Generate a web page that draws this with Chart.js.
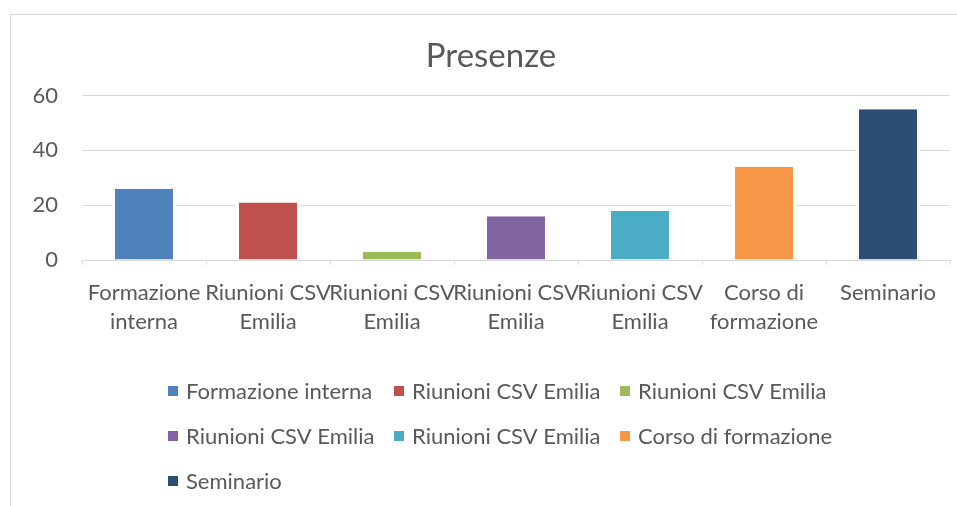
<!DOCTYPE html>
<html>
<head>
<meta charset="utf-8">
<script src="https://cdn.jsdelivr.net/npm/chart.js@4"></script>
<style>
  body { margin: 0; background: #fff; }
  #wrap { width: 957px; height: 506px; position: relative; }
</style>
</head>
<body>
<div id="wrap"><canvas id="chart"></canvas></div>
<script>
const categories = [
  ['Formazione', 'interna'],
  ['Riunioni CSV', 'Emilia'],
  ['Riunioni CSV', 'Emilia'],
  ['Riunioni CSV', 'Emilia'],
  ['Riunioni CSV', 'Emilia'],
  ['Corso di', 'formazione'],
  'Seminario',
];
const presenze = [26, 21, 3, 16, 18, 34, 55];
const barColors = ['#4F81BD', '#C0504D', '#9BBB59', '#8064A2', '#4BACC6', '#F79646', '#2C4D75'];
const yMin = 0;
const yMax = 60;
const yStep = 20;

const textColor = '#595959';
const lineColor = '#d9d9d9';
const family = 'Lato, "Open Sans", sans-serif';

// white card with the light grey frame (only left and top show in the picture)
const frame = {
  id: 'frame',
  beforeDraw(chart) {
    const ctx = chart.ctx;
    ctx.save();
    ctx.fillStyle = '#fff';
    ctx.fillRect(0, 0, chart.width, chart.height);
    ctx.strokeStyle = lineColor;
    ctx.lineWidth = 1;
    ctx.strokeRect(10.5, 14.5, 1200, 1200);
    ctx.restore();
  },
};

// Excel-style legend: one entry per point, laid out in a 3 column grid
const pointLegend = {
  id: 'pointLegend',
  afterDraw(chart) {
    const ctx = chart.ctx;
    ctx.save();
    ctx.font = `22px ${family}`;
    ctx.textBaseline = 'middle';
    ctx.textAlign = 'left';
    categories.forEach((c, i) => {
      const x = 168 + (i % 3) * 226;
      const y = 391 + Math.floor(i / 3) * 45;
      ctx.fillStyle = barColors[i];
      ctx.fillRect(x, y - 5, 10, 10);
      ctx.fillStyle = textColor;
      ctx.fillText([].concat(c).join(' '), x + 18, y + 1);
    });
    ctx.restore();
  },
};

new Chart(document.getElementById('chart'), {
  type: 'bar',
  data: {
    labels: categories,
    datasets: [{
      label: 'Presenze',
      data: presenze,
      backgroundColor: barColors,
      borderColor: '#fff',
      borderWidth: { left: 3, right: 3, top: 0, bottom: 0 },
      borderSkipped: false,
      categoryPercentage: 1,
      barPercentage: 0.516,
    }],
  },
  options: {
    responsive: true,
    maintainAspectRatio: false,
    animation: false,
    layout: { padding: { left: 32, right: 7, top: 14, bottom: 156 } },
    plugins: {
      legend: { display: false },
      tooltip: { enabled: false },
      title: {
        display: true,
        text: 'Presenze',
        color: textColor,
        font: { family, size: 33, weight: 'normal' },
        padding: { top: 23, bottom: 19 },
      },
    },
    scales: {
      x: {
        afterFit(scale) { scale.height = 90; },
        grid: {
          offset: true,
          drawOnChartArea: false,
          drawTicks: true,
          tickLength: 5,
          color: lineColor,
        },
        border: { color: lineColor },
        ticks: {
          color: textColor,
          font: { family, size: 22, lineHeight: 1.32 },
          padding: 13,
          autoSkip: false,
          maxRotation: 0,
          minRotation: 0,
        },
      },
      y: {
        min: yMin,
        max: yMax,
        afterFit(scale) { scale.width = 50; },
        grid: { color: lineColor, drawTicks: false },
        border: { display: false },
        ticks: {
          stepSize: yStep,
          color: textColor,
          font: { family, size: 22 },
          padding: 24,
        },
      },
    },
  },
  plugins: [frame, pointLegend],
});
</script>
</body>
</html>
